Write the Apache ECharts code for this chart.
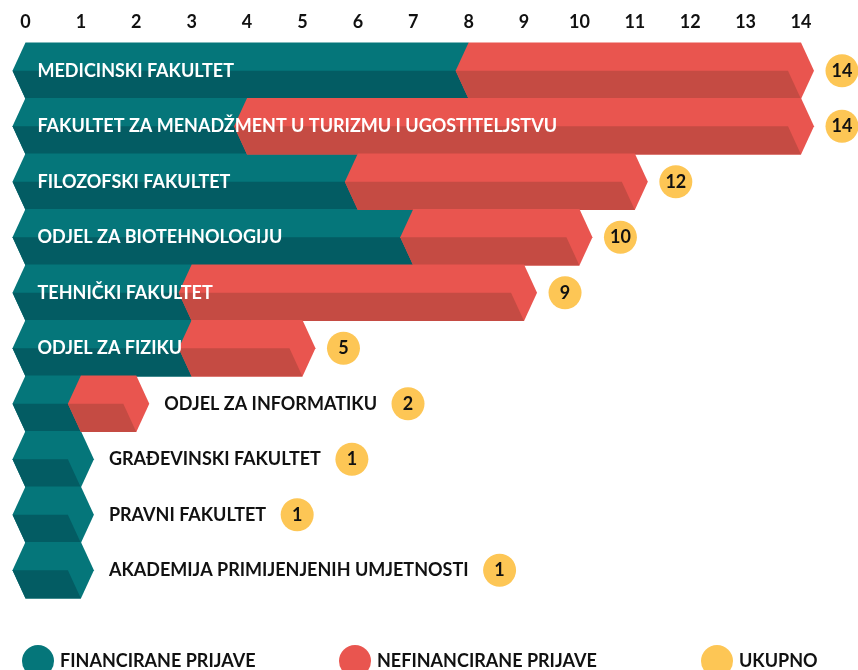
<!DOCTYPE html>
<html>
<head>
<meta charset="utf-8">
<script src="https://cdn.jsdelivr.net/npm/echarts@6/dist/echarts.min.js"></script>
<style>
  html, body { margin: 0; padding: 0; background: #fff; }
  #main { width: 858px; height: 670px; }
</style>
</head>
<body>
<div id="main"></div>
<script>
// podaci
var categories = ['MEDICINSKI FAKULTET', 'FAKULTET ZA MENADŽMENT U TURIZMU I UGOSTITELJSTVU', 'FILOZOFSKI FAKULTET',
  'ODJEL ZA BIOTEHNOLOGIJU', 'TEHNIČKI FAKULTET', 'ODJEL ZA FIZIKU', 'ODJEL ZA INFORMATIKU',
  'GRAĐEVINSKI FAKULTET', 'PRAVNI FAKULTET', 'AKADEMIJA PRIMIJENJENIH UMJETNOSTI'];
var financirane = [8, 4, 6, 7, 3, 3, 1, 1, 1, 1];
var nefinancirane = [6, 10, 5, 3, 6, 2, 1, 0, 0, 0];
var ukupno = [14, 14, 12, 10, 9, 5, 2, 1, 1, 1];
var seriesNames = ['FINANCIRANE PRIJAVE', 'NEFINANCIRANE PRIJAVE', 'UKUPNO'];

var FONT = 'Lato';
var TEAL = '#05767a', TEAL_DARK = '#035c63';
var RED = '#e9554f', RED_DARK = '#c54b43';
var YELLOW = '#fdc655';
var LABEL_SIZE = 18;

var measureCtx = document.createElement('canvas').getContext('2d');
function textWidth(str, size) {
  measureCtx.font = 'bold ' + size + 'px ' + FONT;
  return measureCtx.measureText(str).width;
}

// strelica s tamnom donjom polovinom
function chevron(a, b, yc, h, light, dark) {
  var t = 13;
  var top = yc - h / 2, bot = yc + h / 2;
  return [
    { type: 'polygon', shape: { points: [[a, top], [b, top], [b + t, yc], [b, bot], [a, bot], [a - t, yc]] }, style: { fill: light } },
    { type: 'polygon', shape: { points: [[a - t, yc], [b - t, yc], [b, bot], [a, bot]] }, style: { fill: dark } }
  ];
}

function barRenderer(light, dark) {
  return function (params, api) {
    var i = api.value(2);
    var p0 = api.coord([api.value(0), i]);
    var p1 = api.coord([api.value(1), i]);
    var h = api.size([0, 1])[1] + 1;
    return { type: 'group', children: chevron(p0[0], p1[0], p0[1], h, light, dark) };
  };
}

var finData = [], nefData = [], totData = [];
categories.forEach(function (c, i) {
  finData.push([0, financirane[i], i]);
  if (nefinancirane[i] > 0) nefData.push([financirane[i], financirane[i] + nefinancirane[i], i]);
  totData.push([financirane[i] + nefinancirane[i], ukupno[i], i]);
});

var chart = echarts.init(document.getElementById('main'));

function legendFor(name, left) {
  return {
    data: [name], left: left, top: 640, icon: 'circle', itemWidth: 32, itemHeight: 32,
    selectedMode: false,
    textStyle: { fontFamily: FONT, fontWeight: 'bold', fontSize: 18, color: '#111', padding: [0, 0, 0, 1] }
  };
}

chart.setOption({
  animation: false,
  legend: [legendFor(seriesNames[0], 17), legendFor(seriesNames[1], 334), legendFor(seriesNames[2], 696)],
  grid: { left: 25.5, right: 57, top: 43, bottom: 72 },
  xAxis: {
    type: 'value', position: 'top', min: 0, max: 14, interval: 1,
    axisLine: { show: false }, axisTick: { show: false }, splitLine: { show: false },
    axisLabel: { margin: 12, fontFamily: FONT, fontWeight: 'bold', fontSize: 18, color: '#111' }
  },
  yAxis: {
    type: 'category', inverse: true, data: categories,
    axisLine: { show: false }, axisTick: { show: false }, axisLabel: { show: false }
  },
  series: [
    {
      name: seriesNames[0], type: 'custom', itemStyle: { color: TEAL },
      renderItem: barRenderer(TEAL, TEAL_DARK), data: finData
    },
    {
      name: seriesNames[1], type: 'custom', itemStyle: { color: RED },
      renderItem: barRenderer(RED, RED_DARK), data: nefData
    },
    {
      name: seriesNames[2], type: 'custom', itemStyle: { color: YELLOW },
      renderItem: function (params, api) {
        var i = api.value(2);
        var end = api.coord([api.value(0), i]);
        var origin = api.coord([0, i]);
        var yc = end[1];
        var name = categories[i];
        var inside = api.value(0) >= 5;
        var lx, cx;
        if (inside) {
          lx = origin[0] + 12;
          cx = end[0] + 41;
        } else {
          lx = end[0] + 28;
          cx = lx + textWidth(name, LABEL_SIZE) + 31;
        }
        return {
          type: 'group',
          children: [
            { type: 'text', x: lx, y: yc, style: { text: name, fill: inside ? '#fff' : '#111', font: 'bold ' + LABEL_SIZE + 'px ' + FONT, verticalAlign: 'middle', align: 'left' } },
            { type: 'circle', shape: { cx: cx, cy: yc, r: 16.5 }, style: { fill: YELLOW } },
            { type: 'text', x: cx, y: yc, style: { text: String(api.value(1)), fill: '#111', font: 'bold 18px ' + FONT, verticalAlign: 'middle', align: 'center' } }
          ]
        };
      },
      data: totData
    }
  ]
});
</script>
</body>
</html>
